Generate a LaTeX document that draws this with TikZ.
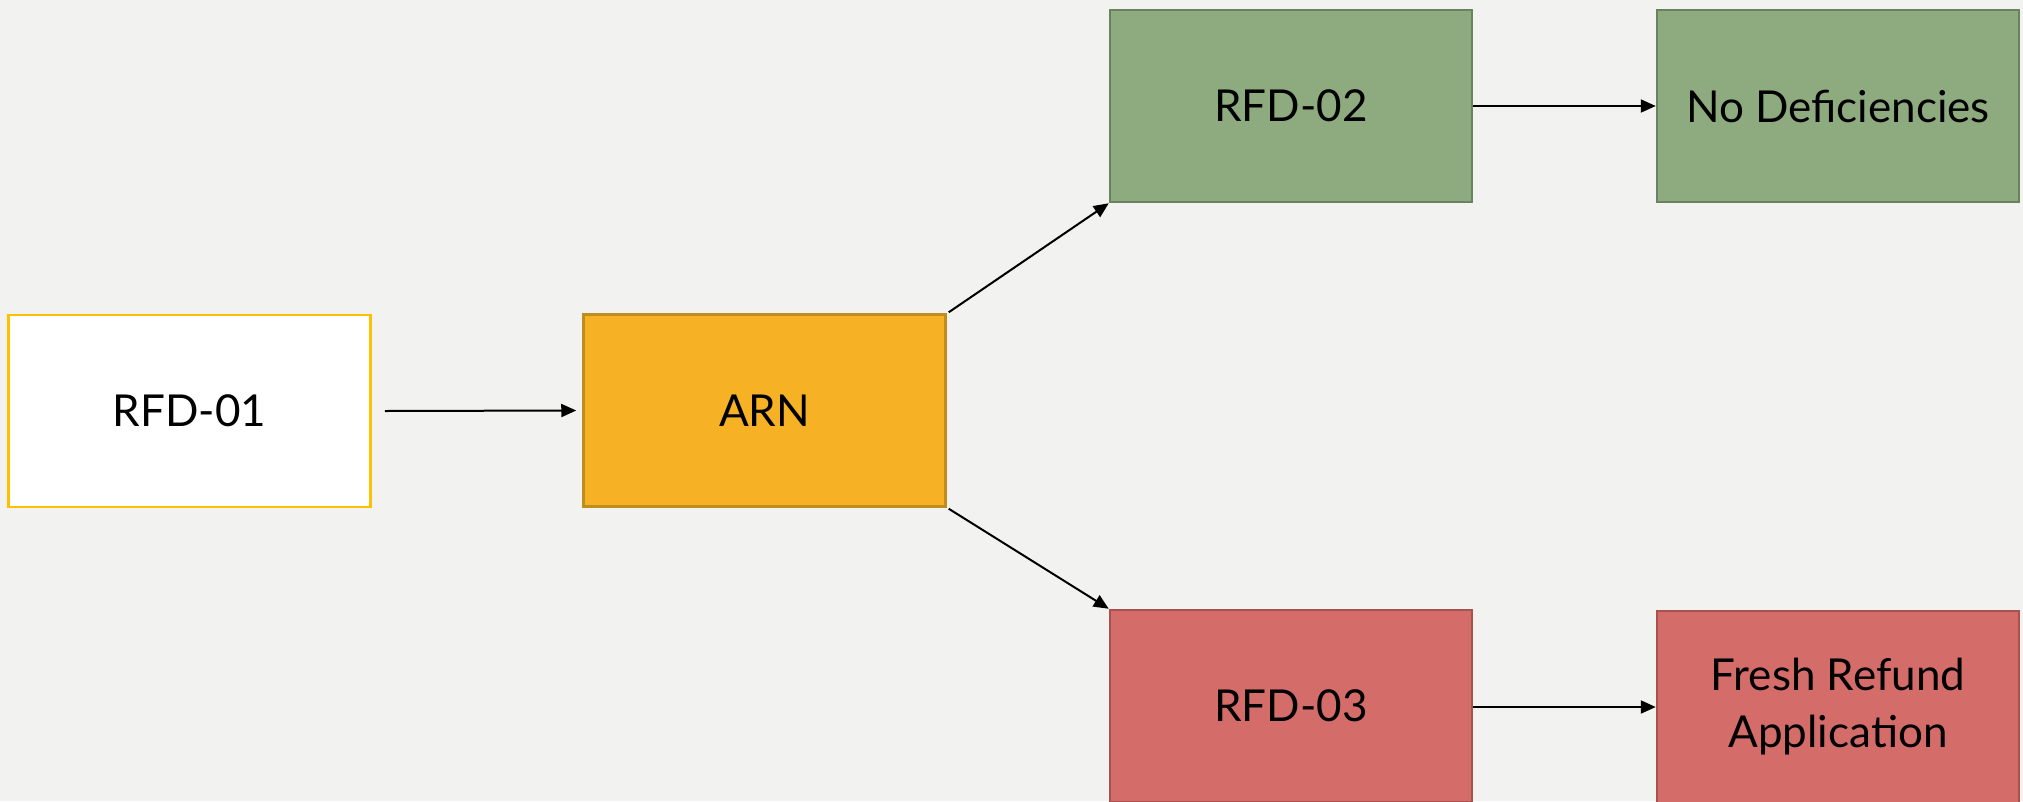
\documentclass[tikz,border=0pt]{standalone}
\usepackage{fontspec}
\setmainfont{Lato}
\usetikzlibrary{arrows.meta}
\definecolor{bg}{HTML}{F2F2F0}
\definecolor{yel}{HTML}{FFC000}
\definecolor{orfill}{HTML}{F6B224}
\definecolor{ordraw}{HTML}{BF8C20}
\definecolor{grfill}{HTML}{8EAA7F}
\definecolor{grdraw}{HTML}{6A8260}
\definecolor{rdfill}{HTML}{D46D69}
\definecolor{rddraw}{HTML}{A8524F}
\tikzset{
  box/.style={rectangle, minimum width=362pt, minimum height=192pt, inner sep=0pt,
    line width=2.5pt, align=center, font=\fontsize{44}{57}\selectfont},
  arr/.style={line width=2pt, -{Triangle[length=15pt,width=13pt]}}
}
\begin{document}
\begin{tikzpicture}[x=1pt,y=-1pt]
\fill[bg] (0,0) rectangle (2023,801);
\useasboundingbox (0,0) rectangle (2023,801);
\node[box, draw=yel, fill=white] (rfd1) at (189.5,411) {RFD-01};
\node[box, draw=ordraw, fill=orfill] (arn) at (764.5,410.5) {ARN};
\node[box, draw=grdraw, fill=grfill] (rfd2) at (1291,106) {RFD-02};
\node[box, draw=grdraw, fill=grfill] (nodef) at (1838,106) {No Deficiencies};
\node[box, draw=rddraw, fill=rdfill] (rfd3) at (1291,706) {RFD-03};
\node[box, draw=rddraw, fill=rdfill] (fresh) at (1838,707) {Fresh Refund\\Application};
\draw[arr] ([xshift=13pt]rfd1.east) -- ([xshift=-6pt]arn.west);
\draw[arr] ([xshift=2pt,yshift=1pt]arn.north east) -- (rfd2.south west);
\draw[arr] ([xshift=2pt,yshift=-1pt]arn.south east) -- (rfd3.north west);
\draw[arr] (rfd2.east) -- (nodef.west);
\draw[arr] (rfd3.east |- fresh.west) -- (fresh.west);
\end{tikzpicture}
\end{document}
